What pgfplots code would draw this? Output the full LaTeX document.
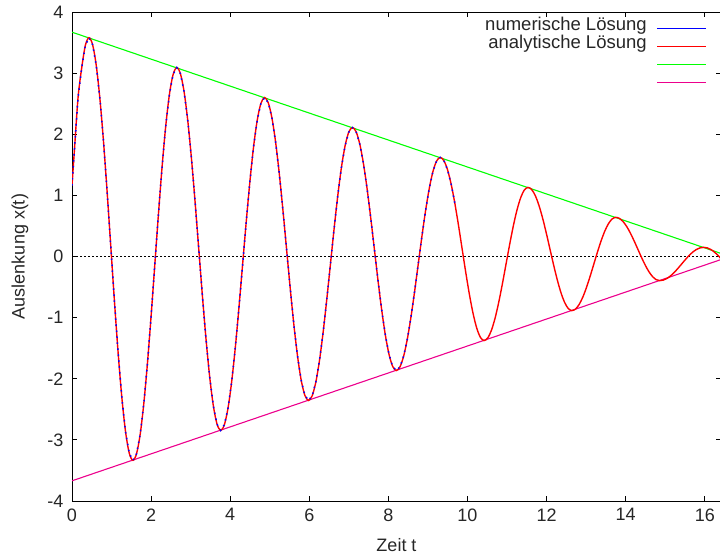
\documentclass[border=0pt]{standalone}
\usepackage{fontspec}
\setmainfont{Liberation Sans}
\usepackage{pgfplots}
\usepackage{pgfplotstable}
\pgfplotsset{compat=1.18}
\pgfplotstableread{
t x
0 1.162
0.06 1.729
0.1525 2.5955
0.245 3.084
0.3375 3.4538
0.43 3.58
0.5225 3.4621
0.615 3.1167
0.7075 2.5673
0.80 1.8513
0.8925 1.0173
0.985 0.1225
1.0775 -0.7723
1.17 -1.6063
1.2625 -2.3223
1.355 -2.8717
1.4475 -3.2171
1.54 -3.335
1.6325 -3.2255
1.725 -2.9045
1.8175 -2.3941
1.91 -1.7288
2.0025 -0.9539
2.095 -0.1225
2.1875 0.7089
2.28 1.4838
2.3725 2.1491
2.465 2.6595
2.5575 2.9805
2.65 3.09
2.7425 2.9888
2.835 2.6924
2.9275 2.2208
3.02 1.6063
3.1125 0.8905
3.205 0.1225
3.2975 -0.6455
3.39 -1.3613
3.4825 -1.9758
3.575 -2.4474
3.6675 -2.7438
3.76 -2.845
3.8525 -2.7522
3.945 -2.4802
4.0375 -2.0476
4.13 -1.4838
4.2225 -0.8271
4.315 -0.1225
4.4075 0.5821
4.50 1.2388
4.5925 1.8026
4.685 2.2352
4.7775 2.5072
4.87 2.60
4.9625 2.5155
5.055 2.2680
5.1475 1.8743
5.24 1.3613
5.3325 0.7637
5.425 0.1225
5.5175 -0.5187
5.61 -1.1163
5.7025 -1.6293
5.795 -2.0230
5.8875 -2.2705
5.98 -2.355
6.0725 -2.2789
6.165 -2.0558
6.2575 -1.7011
6.35 -1.2388
6.4425 -0.7003
6.535 -0.1225
6.6275 0.4553
6.72 0.9938
6.8125 1.4561
6.905 1.8108
6.9975 2.0339
7.09 2.11
7.1825 2.0422
7.275 1.8437
7.3675 1.5279
7.46 1.1163
7.5525 0.6369
7.645 0.1225
7.7375 -0.3919
7.83 -0.8713
7.9225 -1.2829
8.015 -1.5987
8.1075 -1.7972
8.20 -1.865
8.2925 -1.8056
8.385 -1.6315
8.4775 -1.3546
8.57 -0.9938
8.6625 -0.5735
8.755 -0.1225
8.8475 0.3285
8.94 0.7488
9.0325 1.1096
9.125 1.3865
9.2175 1.5606
9.31 1.62
9.4025 1.5689
9.495 1.4193
9.5875 1.1814
9.68 0.8713
9.7725 0.5101
9.865 0.1225
9.9575 -0.2651
10.05 -0.6263
10.1425 -0.9364
10.235 -1.1743
10.3275 -1.3239
10.42 -1.375
10.5125 -1.3323
10.605 -1.2072
10.6975 -1.0082
10.79 -0.7488
10.8825 -0.4466
10.975 -0.1225
11.0675 0.2016
11.16 0.5038
11.2525 0.7632
11.345 0.9622
11.4375 1.0873
11.53 1.13
11.6225 1.0956
11.715 0.9950
11.8075 0.8349
11.90 0.6263
11.9925 0.3832
12.085 0.1225
12.1775 -0.1382
12.27 -0.3813
12.3625 -0.5899
12.455 -0.7500
12.5475 -0.8506
12.64 -0.885
12.7325 -0.859
12.825 -0.7828
12.9175 -0.6617
13.01 -0.5038
13.1025 -0.3198
13.195 -0.1225
13.2875 0.0748
13.38 0.2588
13.4725 0.4167
13.565 0.5378
13.6575 0.614
13.75 0.64
13.8425 0.6224
13.935 0.5707
14.0275 0.4884
14.12 0.3813
14.2125 0.2564
14.305 0.1225
14.3975 -0.0114
14.49 -0.1363
14.5825 -0.2434
14.675 -0.3257
14.7675 -0.3774
14.86 -0.395
14.9525 -0.3857
15.045 -0.3585
15.1375 -0.3152
15.23 -0.2588
15.3225 -0.193
15.415 -0.1225
15.5075 -0.052
15.60 0.0138
15.6925 0.0702
15.785 0.1135
15.8775 0.1407
15.97 0.15
16.0625 0.1407
16.155 0.1135
16.2475 0.0702
16.34 0.0138
16.41 -0.0354
}\curve
\begin{document}
\begin{tikzpicture}
\useasboundingbox (-72pt,-55pt) rectangle (648pt,501pt);
\begin{axis}[
  scale only axis,
  width=649pt, height=489pt,
  xmin=0, xmax=16.41, ymin=-4, ymax=4,
  xtick={0,2,...,16}, ytick={-4,-3,...,4},
  tick align=inside,
  major tick length=5pt,
  axis line style={line width=0.9pt},
  every tick/.style={black, line width=0.9pt},
  /pgf/number format/assume math mode=true,
  tick label style={font=\fontsize{18}{21}\selectfont, text=black!85},
  xticklabel style={yshift=-4pt},
  yticklabel style={xshift=-5pt},
  label style={font=\fontsize{18}{21}\selectfont, text=black!85},
  xlabel={Zeit t},
  ylabel={Auslenkung x(t)},
  xlabel style={at={(axis description cs:0.5,-0.09)}, anchor=center},
  ylabel style={at={(axis description cs:-0.0801,0.5)}, anchor=center},
  legend style={draw=none, fill=none, at={(1,1)}, anchor=north east, xshift=-11pt, yshift=-3pt,
    font=\fontsize{18.5}{21}\selectfont,
    nodes={inner sep=0pt, text height=13pt, text depth=5pt},
    row sep=0pt, column sep=10pt},
  legend cell align=right,
  legend plot pos=right,
  legend image code/.code={\draw[#1, line width=1.1pt] (0pt,-2pt) -- (49pt,-2pt);},
]
\addlegendimage{blue}
\addlegendentry{\color{black!85}numerische Lösung}
\addlegendimage{red}
\addlegendentry{\color{black!85}analytische Lösung}
\addlegendimage{green}
\addlegendentry{}
\addlegendimage{magenta}
\addlegendentry{}
\addplot[black, line width=0.9pt, dash pattern=on 1.5pt off 2.5pt, forget plot] coordinates {(0,0) (16.41,0)};
\addplot[green, line width=1.1pt, forget plot] coordinates {(0,3.67) (16.41,0.05)};
\addplot[magenta, line width=1.1pt, forget plot] coordinates {(0,-3.67) (16.41,-0.05)};
\addplot[red, line width=1.4pt, smooth, forget plot] table[x=t, y=x] {\curve};
\addplot[blue, line width=1.5pt, dash pattern=on 1.5pt off 4.5pt, restrict x to domain=0:9.7, forget plot] table[x=t, y=x] {\curve};
\end{axis}
\end{tikzpicture}
\end{document}
